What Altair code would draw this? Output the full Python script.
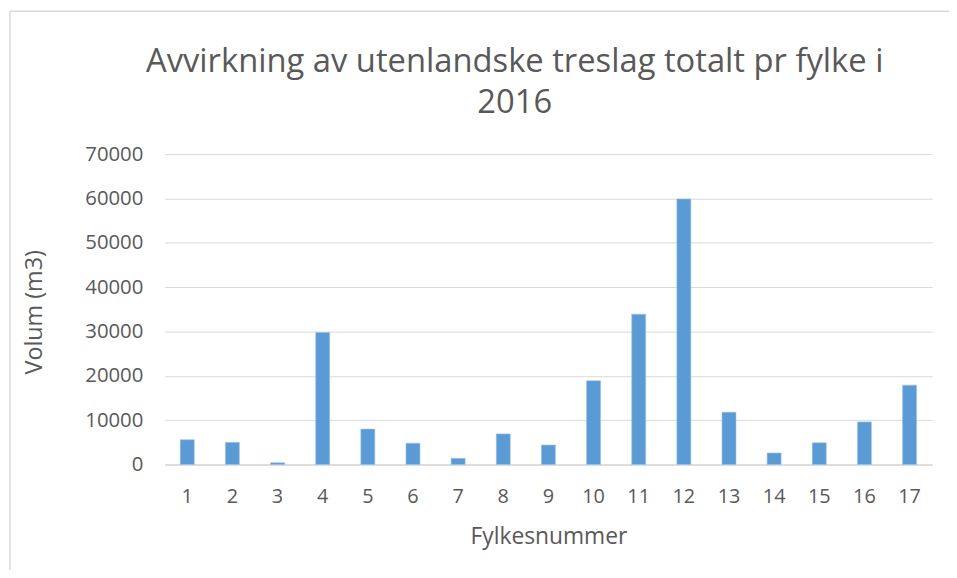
import altair as alt
import pandas as pd

fylke = [str(i) for i in range(1, 18)]
volum = [5600, 5000, 400, 29800, 8000, 4800, 1400, 6900, 4400, 18900, 33900, 59900, 11800, 2600, 4900, 9600, 17900]
title_lines = ["Avvirkning av utenlandske treslag totalt pr fylke i", "2016"]

df = pd.DataFrame({"Fylkesnummer": fylke, "Volum": volum})
one = pd.DataFrame({"k": [0]})

FONT = "Open Sans"
GREY = "#595959"

bars = alt.Chart(df).mark_bar(color="#5B9BD5", stroke="#9DC3E6", strokeWidth=0.6).encode(
    x=alt.X("Fylkesnummer:N", sort=fylke,
            scale=alt.Scale(paddingInner=0.69, paddingOuter=0.345),
            axis=alt.Axis(title="Fylkesnummer", labelAngle=0, labelPadding=22,
                          titlePadding=20, ticks=False, domainColor="#D9D9D9",
                          domainWidth=1.5, labelFontSize=20, titleFontSize=23,
                          labelColor=GREY, titleColor=GREY, labelFont=FONT,
                          titleFont=FONT, titleFontWeight="normal")),
    y=alt.Y("Volum:Q", scale=alt.Scale(domain=[0, 70000], nice=False),
            axis=alt.Axis(title="Volum (m3)", values=list(range(0, 70001, 10000)),
                          format="d", ticks=False, domain=False, gridColor="#D9D9D9",
                          labelPadding=22, labelFontSize=20.5,
                          titleX=-131, titleY=159, titleBaseline="middle",
                          titleAlign="center", titleAngle=-90,
                          titleFontSize=23.5, labelColor=GREY, titleColor=GREY,
                          labelFont=FONT, titleFont=FONT, titleFontWeight="normal")),
)

frame = alt.Chart(one).mark_rule(color="#D9D9D9", strokeWidth=1.5).encode(
    x=alt.value(-156), x2=alt.value(-156), y=alt.value(-144), y2=alt.value(420)
)
frame_top = alt.Chart(one).mark_rule(color="#D9D9D9", strokeWidth=1.5).encode(
    x=alt.value(-156), x2=alt.value(800), y=alt.value(-144), y2=alt.value(-144)
)
title = alt.Chart(one).mark_text(
    font=FONT, fontSize=33, color=GREY, align="center", baseline="alphabetic",
    lineHeight=42,
).encode(x=alt.value(353), y=alt.value(-83), text=alt.value(title_lines))

chart = alt.layer(frame, frame_top, title, bars).properties(
    width=774,
    height=313,
    autosize=alt.AutoSizeParams(type="none"),
    padding={"left": 158, "top": 145, "right": 17, "bottom": 104},
).configure_view(stroke=None)

chart.save("out.html", embed_options={"renderer": "svg", "actions": False})
